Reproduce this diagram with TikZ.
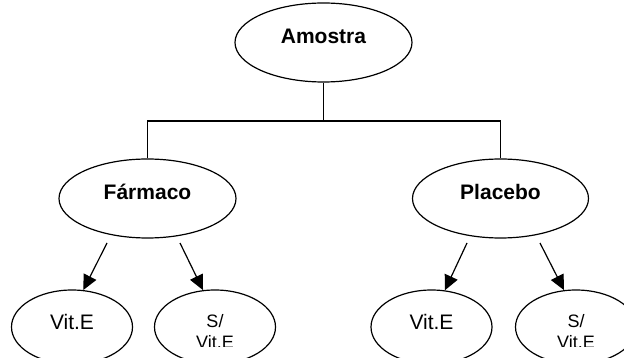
\documentclass[tikz,border=0pt]{standalone}
\usepackage{fontspec}
\setmainfont{Liberation Sans}
\usetikzlibrary{shapes.geometric,arrows.meta}

% two-line label whose lower line is cut by the text frame
\newcommand{\cutlabel}[1]{%
  \clip ([yshift=-19pt]path picture bounding box.west) rectangle
        (path picture bounding box.north east);
  \node[inner sep=0pt, font=\fontsize{18}{21}\selectfont,
        text height=12pt, text depth=12pt]
    at (path picture bounding box.center)
    {\begin{tabular}[t]{@{}c@{}}#1\end{tabular}};}

\tikzset{
  oval/.style={ellipse, draw=black, line width=1.2pt, inner sep=0pt,
               minimum width=177pt, minimum height=79pt,
               font=\fontsize{21}{25}\selectfont\bfseries,
               text height=15pt, text depth=12pt},
  leaf/.style={ellipse, draw=black, line width=1.2pt, inner sep=0pt,
               minimum width=121pt, minimum height=74pt,
               font=\fontsize{21}{25}\selectfont,
               text height=15pt, text depth=10pt},
  link/.style={line width=1.2pt},
  arr/.style={line width=1.2pt, -{Triangle[length=15pt,width=14pt]}}
}

\begin{document}
\begin{tikzpicture}[x=1pt, y=-1pt]
  \useasboundingbox (0,0) rectangle (624,358);
  \clip (0,0) rectangle (624,358);

  % top level
  \node[oval] (amostra) at (323.5,42.5) {Amostra};

  % treatment groups
  \node[oval] (farm) at (147.5,198.5) {Fármaco};
  \node[oval, minimum width=176pt] (plac) at (500.5,198.5) {Placebo};

  % bus connecting the sample to both groups
  \coordinate (junction) at (323.5,121);
  \draw[link] (amostra.south) -- (junction);
  \draw[link] (farm.north) |- (junction) -| (plac.north);

  % outcome nodes
  \node[leaf] (vitL) at (72,327)  {Vit.E};
  \node[leaf, path picture={\cutlabel{S/\\Vit.E}}] (noL) at (215,327) {};
  \node[leaf] (vitR) at (431.5,327) {Vit.E};
  \node[leaf, path picture={\cutlabel{S/\\Vit.E}}] (noR) at (576,327) {};

  % arrow tails just below each group
  \coordinate (fa) at (107,243);
  \coordinate (fb) at (180,243);
  \coordinate (pa) at (467,243);
  \coordinate (pb) at (540,243);

  \draw[arr] (fa) -- (vitL.73);
  \draw[arr] (fb) -- (noL.108);
  \draw[arr] (pa) -- (vitR.70);
  \draw[arr] (pb) -- (noR.108);
\end{tikzpicture}
\end{document}
